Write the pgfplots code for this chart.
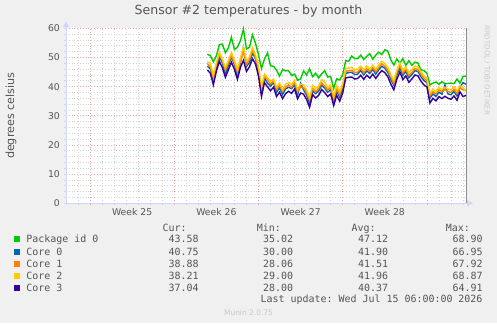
\documentclass[border=0pt]{standalone}
\usepackage{pgfplots}
\pgfplotsset{compat=1.18}
\usepackage{pgfplotstable}
\usepackage{fontspec}
\setmainfont{DejaVu Sans}
\setmonofont{DejaVu Sans Mono}
\usetikzlibrary{arrows.meta}

\definecolor{bgcol}{HTML}{F0F0F0}
\definecolor{pkgcol}{HTML}{00CC00}
\definecolor{coreA}{HTML}{0066B3}
\definecolor{coreB}{HTML}{FF8000}
\definecolor{coreC}{HTML}{FFCC00}
\definecolor{coreD}{HTML}{330099}
\definecolor{axiscol}{HTML}{CFD6F8}
\definecolor{txtcol}{HTML}{555555}
\definecolor{mgridcol}{HTML}{EBAAAA}
\definecolor{gridcol}{HTML}{D4D4D4}
\definecolor{faint}{HTML}{C8C8C8}

% temperatures, 6-hour samples; d = days from the left edge of the graph
\pgfplotstableread{
d     pkg  c0   c1   c2   c3
11.75 51.1 47.0 47.9 48.6 45.7
12.00 50.6 46.1 46.8 47.9 44.6
12.25 48.5 42.0 42.7 43.9 40.6
12.50 50.6 46.5 47.6 48.2 45.3
12.75 54.4 50.1 51.0 51.8 48.6
13.00 54.6 48.2 48.9 49.3 46.5
13.25 51.6 44.3 45.6 46.5 43.2
13.50 53.3 47.2 48.1 49.0 45.8
13.75 56.9 50.3 50.8 51.7 48.4
14.00 52.7 47.6 48.1 49.0 45.9
14.25 53.5 43.4 44.9 45.9 42.5
14.50 55.8 48.3 48.7 49.8 46.6
14.75 59.7 53.4 52.2 53.6 49.0
15.00 52.9 46.9 47.6 48.8 45.2
15.25 53.5 48.2 49.3 50.1 46.8
15.50 57.8 51.5 52.4 53.4 49.6
15.75 54.9 49.6 50.0 50.9 47.8
16.00 51.0 45.0 45.9 47.1 43.6
16.25 46.2 38.1 39.3 40.2 36.6
16.50 49.5 42.9 43.6 44.3 41.4
16.75 51.6 41.2 42.4 43.1 39.9
17.00 47.1 40.1 40.9 41.8 38.6
17.25 47.0 41.5 41.9 42.6 39.8
17.50 45.7 38.0 39.1 39.8 36.6
17.75 43.6 39.6 40.3 41.2 38.1
18.00 45.9 37.3 38.4 39.0 35.9
18.25 45.4 39.2 39.8 40.9 37.6
18.50 45.5 39.8 40.6 41.4 38.4
18.75 43.8 39.3 39.7 40.8 37.7
19.00 44.3 40.6 41.5 42.2 39.2
19.25 42.2 37.1 38.2 39.1 35.8
19.50 42.6 41.2 39.9 40.9 37.8
19.75 45.4 38.9 39.6 40.6 37.4
20.00 44.0 37.1 37.9 38.8 35.6
20.25 46.1 34.3 35.4 36.2 32.9
20.50 43.4 38.6 39.5 40.4 37.3
20.75 44.6 37.6 38.2 39.3 36.1
21.00 43.0 38.5 39.4 40.2 37.0
21.25 44.4 40.4 41.3 42.4 39.0
21.50 45.5 39.5 40.2 41.6 38.0
21.75 43.3 38.1 38.8 39.7 36.6
22.00 43.5 39.0 39.8 40.6 37.5
22.25 39.4 35.0 35.6 36.8 33.5
22.50 42.7 38.4 39.2 40.3 37.0
22.75 42.3 36.4 37.2 38.1 35.0
23.00 44.1 39.2 40.1 41.0 37.8
23.25 48.9 44.6 45.3 46.2 43.0
23.50 48.7 44.8 45.4 46.4 43.2
23.75 50.5 44.9 45.6 46.6 43.3
24.00 49.6 44.1 44.8 45.7 42.6
24.25 49.6 44.3 45.0 46.1 42.8
24.50 50.8 45.5 46.2 47.0 43.9
24.75 49.3 44.0 44.7 45.8 42.5
25.00 50.4 45.4 46.1 47.1 43.9
25.25 51.3 44.5 45.2 46.0 42.9
25.50 49.4 45.9 46.5 47.4 44.3
25.75 50.8 44.3 45.1 45.9 42.8
26.00 51.8 45.8 46.6 47.5 44.3
26.25 51.0 47.0 47.8 48.7 45.5
26.50 52.6 46.3 47.0 47.9 44.8
26.75 52.2 44.9 45.6 46.6 43.4
27.00 49.2 42.4 43.2 44.1 40.9
27.25 47.4 40.5 41.1 42.1 38.9
27.50 49.5 44.0 44.8 45.6 42.5
27.75 48.0 46.6 47.3 48.2 45.1
28.00 49.6 43.9 44.7 45.5 42.4
28.25 47.3 45.2 45.9 46.8 43.7
28.50 48.9 43.0 43.8 44.7 41.5
28.75 47.3 44.1 44.8 45.8 42.6
29.00 48.4 45.5 46.2 47.1 44.0
29.25 48.1 45.2 45.9 46.8 43.7
29.50 45.7 43.4 44.2 45.1 41.9
29.75 45.5 42.1 42.9 43.7 40.6
30.00 44.6 41.4 42.1 43.0 39.9
30.25 40.6 36.0 36.8 37.6 34.4
30.50 41.2 37.5 38.3 39.2 36.0
30.75 41.6 36.6 37.4 38.3 35.1
31.00 40.8 38.1 38.9 39.8 36.6
31.25 41.7 37.4 38.2 39.0 35.9
31.50 41.0 40.6 39.0 39.8 36.7
31.75 41.1 37.5 38.3 39.2 36.0
32.00 41.2 37.2 38.0 38.9 35.7
32.25 41.0 38.3 39.1 40.0 36.8
32.50 42.6 36.8 37.6 38.5 35.3
32.75 41.2 39.7 39.6 40.4 38.2
33.00 43.5 41.4 38.9 39.8 36.6
33.25 43.6 40.8 38.9 38.2 37.0
}\temps

\begin{document}
\begin{tikzpicture}[x=1bp,y=1bp]
\fill[bgcol] (0,0) rectangle (497,323);
\useasboundingbox (0,0) rectangle (497,323);

\begin{axis}[
  at={(66bp,119.7bp)}, anchor=south west,
  scale only axis, width=400bp, height=175bp,
  xmin=0, xmax=33.25, ymin=0, ymax=60,
  axis background/.style={fill=white},
  axis x line=bottom, axis y line=left,
  x axis line style={draw=axiscol, line width=0.8bp, -{Triangle[length=6bp,width=6bp]}, shorten >=-7bp},
  y axis line style={draw=axiscol, line width=0.8bp, -{Triangle[length=6bp,width=6bp]}, shorten >=-7bp},
  xtick={2,9,16,23,30}, xticklabels={},
  minor xtick={0,1,...,33},
  ytick={0,10,...,60},
  minor ytick={0,2,...,60},
  grid=both,
  major grid style={draw=mgridcol, line width=0.7bp, dash pattern=on 0.8bp off 2bp},
  minor grid style={draw=gridcol, line width=0.7bp, dash pattern=on 0.8bp off 2bp},
  tick align=outside,
  major tick length=2bp, minor tick length=2bp,
  x tick style={draw=mgridcol, line width=0.7bp},
  y tick style={draw=axiscol, line width=0.7bp},
  minor x tick style={draw=axiscol},
  extra x ticks={5.5,12.5,19.5,26.5},
  extra x tick labels={Week 25,Week 26,Week 27,Week 28},
  extra x tick style={grid=none, major tick length=0pt,
    xticklabel style={anchor=north, inner sep=0pt, yshift=-4.5bp}},
  /pgf/number format/assume math mode=true,
  tick label style={font=\fontsize{9.3}{10}\selectfont, text=txtcol},
  yticklabel style={anchor=east, inner sep=0pt, xshift=-4bp},
  every axis title shift=0pt,
  title={Sensor \#2 temperatures - by month},
  title style={at={(rel axis cs:0.45625,1.0989)}, anchor=center,
    font=\fontsize{12.6}{14}\selectfont, text=txtcol},
  ylabel={degrees celsius},
  ylabel style={at={(rel axis cs:-0.1375,0.5)}, anchor=center,
    font=\fontsize{11.2}{13}\selectfont, text=txtcol},
  clip=false,
]
\addplot[pkgcol, line width=1.4bp] table[x=d, y=pkg] {\temps};
\addplot[coreA, line width=1.4bp] table[x=d, y=c0] {\temps};
\addplot[coreB, line width=1.4bp] table[x=d, y=c1] {\temps};
\addplot[coreC, line width=1.4bp] table[x=d, y=c2] {\temps};
\addplot[coreD, line width=1.4bp] table[x=d, y=c3] {\temps};
\draw[draw=black!45, line width=1bp] (rel axis cs:1,0) -- (rel axis cs:1,1);
\end{axis}

% watermark on the right edge
\node[rotate=-90, text=faint, font=\fontsize{7}{8}\selectfont, anchor=west, inner sep=0pt]
  at (487,298) {RRDTOOL / TOBI OETIKER};

% value table under the graph
\begin{scope}[every node/.style={inner sep=0pt, text=txtcol, font=\ttfamily\fontsize{10}{12}\selectfont}]
\node[anchor=base east] at (186.7,91.4) {Cur:};
\node[anchor=base east] at (281,91.4) {Min:};
\node[anchor=base east] at (375.7,91.4) {Avg:};
\node[anchor=base east] at (470,91.4) {Max:};

\fill[pkgcol] (14,80.7) rectangle +(6,6);
\node[anchor=base west] at (26.3,80.1) {Package id 0};
\node[anchor=base east] at (198.7,80.1) {43.58};
\node[anchor=base east] at (293.3,80.1) {35.02};
\node[anchor=base east] at (388.3,80.1) {47.12};
\node[anchor=base east] at (482.7,80.1) {68.90};

\fill[coreA] (14,68.3) rectangle +(6,6);
\node[anchor=base west] at (26.3,67.7) {Core 0};
\node[anchor=base east] at (198.7,67.7) {40.75};
\node[anchor=base east] at (293.3,67.7) {30.00};
\node[anchor=base east] at (388.3,67.7) {41.90};
\node[anchor=base east] at (482.7,67.7) {66.95};

\fill[coreB] (14,56.3) rectangle +(6,6);
\node[anchor=base west] at (26.3,55.7) {Core 1};
\node[anchor=base east] at (198.7,55.7) {38.88};
\node[anchor=base east] at (293.3,55.7) {28.06};
\node[anchor=base east] at (388.3,55.7) {41.51};
\node[anchor=base east] at (482.7,55.7) {67.92};

\fill[coreC] (14,44.3) rectangle +(6,6);
\node[anchor=base west] at (26.3,43.7) {Core 2};
\node[anchor=base east] at (198.7,43.7) {38.21};
\node[anchor=base east] at (293.3,43.7) {29.00};
\node[anchor=base east] at (388.3,43.7) {41.96};
\node[anchor=base east] at (482.7,43.7) {68.87};

\fill[coreD] (14,32.3) rectangle +(6,6);
\node[anchor=base west] at (26.3,31.7) {Core 3};
\node[anchor=base east] at (198.7,31.7) {37.04};
\node[anchor=base east] at (293.3,31.7) {28.00};
\node[anchor=base east] at (388.3,31.7) {40.37};
\node[anchor=base east] at (482.7,31.7) {64.91};

\node[anchor=base east] at (482.7,20.1) {Last update: Wed Jul 15 06:00:00 2026};
\end{scope}

\node[text=faint, font=\fontsize{7.5}{9}\selectfont, inner sep=0pt] at (248.5,10.7) {Munin 2.0.75};
\end{tikzpicture}
\end{document}
